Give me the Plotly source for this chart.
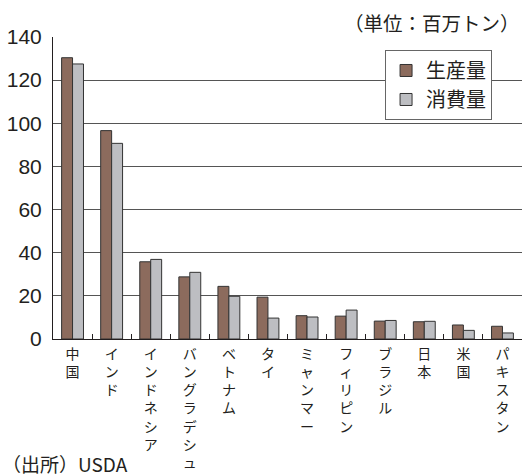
import plotly.graph_objects as go

categories = ["中国", "インド", "インドネシア", "バングラデシュ", "ベトナム", "タイ",
              "ミャンマー", "フィリピン", "ブラジル", "日本", "米国", "パキスタン"]
production = [130.4, 96.6, 35.8, 28.8, 24.4, 19.4, 10.8, 10.6, 8.3, 8.0, 6.5, 5.9]
consumption = [127.5, 90.7, 36.9, 30.9, 19.8, 9.7, 10.2, 13.4, 8.6, 8.2, 4.0, 2.8]
series_names = ["生産量", "消費量"]
y_ticks = [0, 20, 40, 60, 80, 100, 120, 140]
unit_label = "（単位：百万トン）"
source_label = "（出所）USDA"

JP = "Noto Sans CJK JP"
NUM = "Liberation Sans, Arial, Noto Sans CJK JP"

# vertical (tategaki) category labels: one character per line
vertical_labels = ["<br>".join(list(c)) for c in categories]

fig = go.Figure()
fig.add_trace(go.Bar(x=categories, y=production, name=series_names[0],
                     marker=dict(color="#8c6b5d", line=dict(color="#333333", width=1))))
fig.add_trace(go.Bar(x=categories, y=consumption, name=series_names[1],
                     marker=dict(color="#bdbec2", line=dict(color="#333333", width=1))))

annotations = [
    dict(text=unit_label, xref="paper", yref="paper", x=1, y=1,
         xanchor="right", yanchor="bottom", yshift=-2, showarrow=False,
         font=dict(family=JP, size=19.5, color="#231f20")),
    dict(text=source_label, xref="paper", yref="paper", x=-0.113, y=0,
         xanchor="left", yanchor="middle", yshift=-124, showarrow=False,
         font=dict(family=JP, size=19, color="#231f20")),
]

fig.update_layout(
    width=522, height=476,
    margin=dict(l=53, r=0, t=37, b=137),
    paper_bgcolor="white", plot_bgcolor="white",
    barmode="group", bargap=0.44, bargroupgap=0,
    font=dict(family=NUM, color="#231f20"),
    legend=dict(x=0.708, y=0.957, xanchor="left", yanchor="top",
                bgcolor="white", bordercolor="#666666", borderwidth=1,
                font=dict(family=JP, size=20, color="#231f20"),
                tracegroupgap=0, itemwidth=30),
    annotations=annotations,
    xaxis=dict(tickmode="array", tickvals=categories, ticktext=vertical_labels,
               tickangle=0, tickfont=dict(family=JP, size=14, color="#231f20"),
               showline=True, linecolor="#231f20", linewidth=1,
               ticks="inside", ticklen=5, tickcolor="#231f20", tickson="boundaries",
               showgrid=False, ticklabelstandoff=2),
    yaxis=dict(range=[0, 140], tickvals=y_ticks, showline=True, linecolor="#231f20",
               linewidth=1, ticks="", showgrid=True, gridcolor="#555555", gridwidth=1,
               tickfont=dict(family=NUM, size=21, color="#231f20"), ticklabelstandoff=6,
               zeroline=False),
)

fig.write_html("out.html")
